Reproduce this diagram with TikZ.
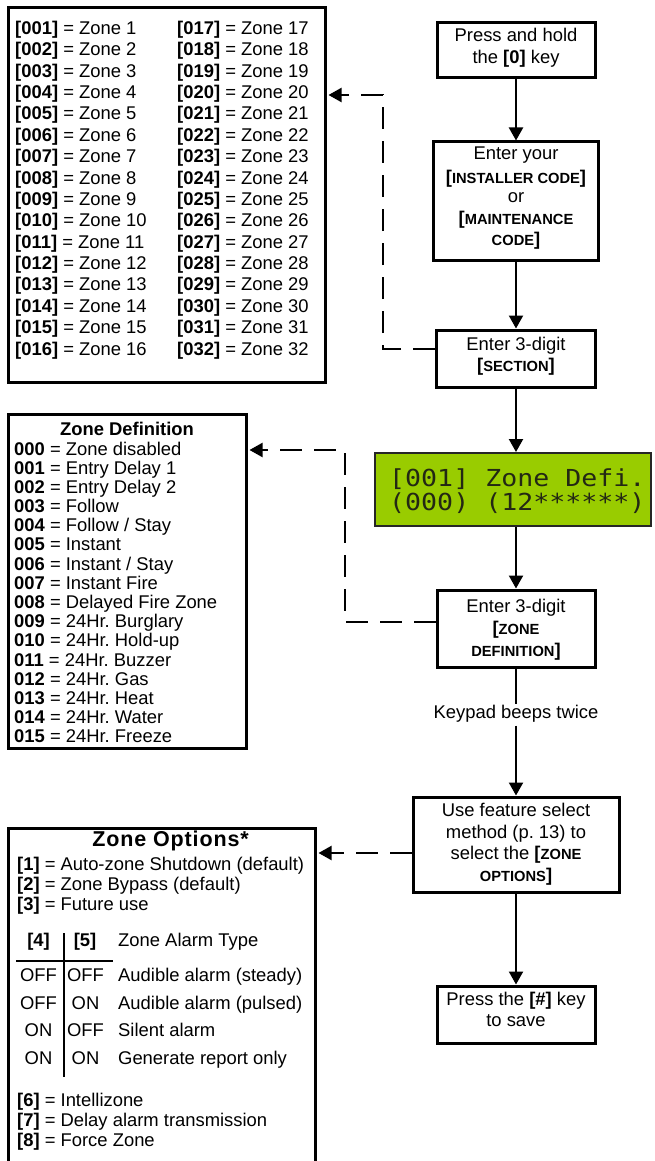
\documentclass[tikz,border=0pt]{standalone}
\usepackage{graphicx}
\usepackage{fontspec}
\setmainfont{Liberation Sans}
\newfontfamily\lcdfont{DejaVu Sans Mono}
\usetikzlibrary{arrows.meta}
\definecolor{lcdgreen}{RGB}{153,204,0}
\definecolor{lcdink}{RGB}{35,40,20}
\newcommand{\scx}[1]{{\fontsize{14.7}{16}\selectfont\bfseries #1}}
\frenchspacing
\begin{document}
\begin{tikzpicture}[x=1pt,y=-1pt,
  txt/.style={inner sep=0pt, anchor=base, font=\fontsize{18.4}{22}\selectfont},
  lst/.style={txt, anchor=base west},
  stepbox/.style={draw=black, line width=3pt, inner sep=0pt, fill=white},
  listbox/.style={draw=black, line width=3pt, inner sep=0pt},
  flowarrow/.style={line width=2.2pt, -{Triangle[width=14pt,length=13pt]}},
  dashc/.style={line width=2pt, dash pattern=on 22pt off 12pt, -{Triangle[width=14pt,length=13pt]}, shorten >=2pt},
  lcdtxt/.style={anchor=base west, inner sep=0pt, text=lcdink, font=\lcdfont\fontsize{26.6}{28}\selectfont}
]
\useasboundingbox (0,0) rectangle (655,1161);

% ---------- left list boxes ----------
\node[listbox, minimum width=317pt, minimum height=374pt] (zl) at (166.5,195) {};
\foreach \i in {1,...,16}{
  \pgfmathtruncatemacro\j{\i+16}
  \pgfmathsetmacro\yy{34.5+(\i-1)*21.37}
  \node[lst] (za\i) at (15,\yy) {\textbf{[\ifnum\i<10 00\else 0\fi\i]} = Zone \i};
  \node[lst] (zb\i) at (177,\yy) {\textbf{[0\j]} = Zone \j};
}

\node[listbox, minimum width=238pt, minimum height=334pt] (zd) at (127,581) {};
\node[txt] (zdt) at (127,435) {\textbf{Zone Definition}};
\node[lst] (zd0) at (14,455.0) {\textbf{000} = Zone disabled};
\node[lst] (zd1) at (14,474.2) {\textbf{001} = Entry Delay 1};
\node[lst] (zd2) at (14,493.4) {\textbf{002} = Entry Delay 2};
\node[lst] (zd3) at (14,512.5) {\textbf{003} = Follow};
\node[lst] (zd4) at (14,531.7) {\textbf{004} = Follow / Stay};
\node[lst] (zd5) at (14,550.9) {\textbf{005} = Instant};
\node[lst] (zd6) at (14,570.1) {\textbf{006} = Instant / Stay};
\node[lst] (zd7) at (14,589.3) {\textbf{007} = Instant Fire};
\node[lst] (zd8) at (14,608.4) {\textbf{008} = Delayed Fire Zone};
\node[lst] (zd9) at (14,627.6) {\textbf{009} = 24Hr. Burglary};
\node[lst] (zd10) at (14,646.8) {\textbf{010} = 24Hr. Hold-up};
\node[lst] (zd11) at (14,666.0) {\textbf{011} = 24Hr. Buzzer};
\node[lst] (zd12) at (14,685.2) {\textbf{012} = 24Hr. Gas};
\node[lst] (zd13) at (14,704.3) {\textbf{013} = 24Hr. Heat};
\node[lst] (zd14) at (14,723.5) {\textbf{014} = 24Hr. Water};
\node[lst] (zd15) at (14,742.7) {\textbf{015} = 24Hr. Freeze};

\node[listbox, minimum width=307pt, minimum height=360pt] (zo) at (161.5,1008) {};
\node[txt, font=\fontsize{21.5}{24}\selectfont] (zot) at (171,846) {\addfontfeature{LetterSpace=4}\textbf{Zone Options*}};
\node[lst] (zo1) at (17,870) {\textbf{[1]} = Auto-zone Shutdown (default)};
\node[lst] (zo2) at (17,890.3) {\textbf{[2]} = Zone Bypass (default)};
\node[lst] (zo3) at (17,910.7) {\textbf{[3]} = Future use};
\node[txt] (h4) at (38.5,946.7) {\textbf{[4]}};
\node[txt] (h5) at (85,946.7) {\textbf{[5]}};
\node[lst] (hd) at (118,946.7) {Zone Alarm Type};
\draw[line width=2pt] (16,960.7) -- (113,960.7);
\draw[line width=2pt] (64,933) -- (64,1077);
\node[txt] (r1a) at (38.5,981.7) {OFF};
\node[txt] (r1b) at (85.5,981.7) {OFF};
\node[lst] (r1c) at (118,981.7) {Audible alarm (steady)};
\node[txt] (r2a) at (38.5,1009) {OFF};
\node[txt] (r2b) at (85.5,1009) {ON};
\node[lst] (r2c) at (118,1009) {Audible alarm (pulsed)};
\node[txt] (r3a) at (38.5,1036.7) {ON};
\node[txt] (r3b) at (85.5,1036.7) {OFF};
\node[lst] (r3c) at (118,1036.7) {Silent alarm};
\node[txt] (r4a) at (38.5,1064.3) {ON};
\node[txt] (r4b) at (85.5,1064.3) {ON};
\node[lst] (r4c) at (118,1064.3) {Generate report only};
\node[lst] (zo6) at (17,1106) {\textbf{[6]} = Intellizone};
\node[lst] (zo7) at (17,1126) {\textbf{[7]} = Delay alarm transmission};
\node[lst] (zo8) at (17,1146) {\textbf{[8]} = Force Zone};

% ---------- flow boxes ----------
\node[stepbox, minimum width=158pt, minimum height=55pt] (b1) at (516,50.5) {};
\node[txt] (b1a) at (516,41.7) {Press and hold};
\node[txt] (b1b) at (516,64) {the \textbf{[0]} key};

\node[stepbox, minimum width=165pt, minimum height=118pt] (b2) at (516,201) {};
\node[txt] (b2a) at (516,159.3) {Enter your};
\node[txt] (b2b) at (516,183.3) {\textbf{[}\scx{INSTALLER CODE}\textbf{]}};
\node[txt] (b2c) at (516,202.3) {or};
\node[txt] (b2d) at (516,224) {\textbf{[}\scx{MAINTENANCE}};
\node[txt] (b2e) at (516,245) {\scx{CODE}\textbf{]}};

\node[stepbox, minimum width=159pt, minimum height=57pt] (b3) at (516,358.5) {};
\node[txt] (b3a) at (516,350) {Enter 3-digit};
\node[txt] (b3b) at (516,371.7) {\textbf{[}\scx{SECTION}\textbf{]}};

\node[draw=black!85, line width=2pt, fill=lcdgreen, minimum width=276pt, minimum height=73pt, inner sep=0pt] (lcd) at (513,489.5) {};
\node[lcdtxt] (lcd1) at (389,486) {\scalebox{1}[0.88]{[001] Zone Defi.}};
\node[lcdtxt] (lcd2) at (389,510) {\scalebox{1}[0.88]{(000) (12******)}};

\node[stepbox, minimum width=158pt, minimum height=77pt] (b4) at (516,628.5) {};
\node[txt] (b4a) at (516,612.3) {Enter 3-digit};
\node[txt] (b4b) at (516,634) {\textbf{[}\scx{ZONE}};
\node[txt] (b4c) at (516,656) {\scx{DEFINITION}\textbf{]}};

\node[txt, text height=12.5pt, text depth=5pt, inner ysep=2pt] (kb) at (516,718.3) {Keypad beeps twice};

\node[stepbox, minimum width=206pt, minimum height=95pt] (b5) at (516,844.5) {};
\node[txt] (b5a) at (516,816.7) {Use feature select};
\node[txt] (b5b) at (516,838.3) {method (p. 13) to};
\node[txt] (b5c) at (516,859) {select the \textbf{[}\scx{ZONE}};
\node[txt] (b5d) at (516,881) {\scx{OPTIONS}\textbf{]}};

\node[stepbox, minimum width=158pt, minimum height=57pt] (b6) at (516,1014.5) {};
\node[txt] (b6a) at (516,1005) {Press the \textbf{[\#]} key};
\node[txt] (b6b) at (516,1026.7) {to save};

% ---------- solid connectors ----------
\draw[flowarrow] (b1.south) -- (b2.north);
\draw[flowarrow] (b2.south) -- (b3.north);
\draw[flowarrow] (b3.south) -- (b3.south |- lcd.north);
\draw[flowarrow] (b3.south |- lcd.south) -- (b4.north);
\draw[line width=2.2pt] (b4.south) -- (kb.north);
\draw[flowarrow] (kb.south) -- (b5.north);
\draw[flowarrow] (b5.south) -- (b6.north);

% ---------- dashed connectors ----------
\coordinate (d1a) at (383,349);
\coordinate (d1b) at (383,95);
\draw[dashc] (b3.west |- d1a) -- (d1a) -- (d1b) -- (zl.east |- d1b);
\coordinate (d2a) at (345,622);
\coordinate (d2b) at (345,450);
\draw[dashc] (b4.west |- d2a) -- (d2a) -- (d2b) -- (zd.east |- d2b);
\coordinate (d3a) at (400,853);
\draw[dashc] (b5.west |- d3a) -- (zo.east |- d3a);
\end{tikzpicture}
\end{document}
